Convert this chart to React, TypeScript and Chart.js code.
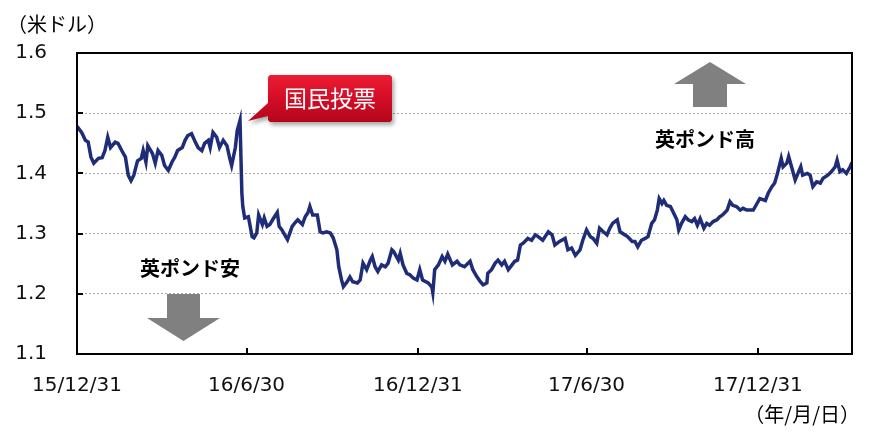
import React, { useEffect, useRef } from "react";
import { Chart, registerables } from "chart.js";

Chart.register(...registerables);

// Days since 2015-12-31
const days = [
  0, 5, 9, 12, 15, 18, 23, 27, 30, 33, 36, 41, 44, 48, 52, 55, 58, 61, 65, 69, 71, 74, 76, 81, 84, 87, 91, 94, 98,
  102, 105, 108, 113, 116, 119, 123, 127, 130, 134, 137, 141, 143, 146, 150, 153, 157, 161, 164, 166, 170, 172, 175,
  177, 178, 180, 184, 188, 190, 193, 195, 199, 201, 204, 207, 210, 215, 217, 220, 223, 226, 231, 234, 237, 242, 245,
  248, 250, 253, 258, 261, 264, 268, 272, 275, 279, 281, 284, 286, 290, 293, 296, 301, 304, 307, 311, 315, 317, 320,
  323, 327, 331, 334, 338, 340, 345, 347, 350, 354, 357, 361, 365, 368, 371, 377, 381, 382, 384, 388, 392, 395, 398,
  403, 408, 411, 416, 422, 425, 429, 433, 436, 440, 441, 445, 449, 452, 456, 459, 463, 467, 470, 473, 476, 479, 484,
  488, 492, 495, 500, 506, 510, 513, 518, 524, 527, 531, 535, 540, 543, 547, 551, 554, 558, 561, 565, 569, 572, 575,
  580, 583, 588, 591, 596, 599, 602, 606, 610, 613, 617, 620, 623, 625, 628, 630, 633, 637, 640, 644, 646, 649, 653,
  656, 660, 663, 666, 669, 673, 676, 679, 683, 687, 690, 693, 698, 701, 704, 708, 712, 715, 719, 722, 726, 730, 733,
  739, 742, 746, 749, 752, 756, 758, 762, 764, 768, 771, 774, 777, 779, 784, 787, 790, 794, 798, 801, 806, 810, 814,
  816, 819, 822, 826, 830, 832,
];

// GBP/USD (US dollars)
const rates = [
  1.478, 1.468, 1.455, 1.452, 1.427, 1.417, 1.425, 1.426, 1.438, 1.46, 1.443, 1.452, 1.45, 1.438, 1.427, 1.397, 1.388,
  1.397, 1.421, 1.425, 1.438, 1.419, 1.446, 1.433, 1.417, 1.438, 1.43, 1.413, 1.405, 1.419, 1.427, 1.438, 1.443, 1.455,
  1.463, 1.466, 1.452, 1.443, 1.438, 1.45, 1.455, 1.443, 1.468, 1.46, 1.443, 1.455, 1.446, 1.425, 1.413, 1.443, 1.471,
  1.488, 1.367, 1.345, 1.326, 1.328, 1.295, 1.293, 1.301, 1.331, 1.315, 1.326, 1.312, 1.315, 1.323, 1.335, 1.312, 1.306,
  1.298, 1.29, 1.312, 1.318, 1.323, 1.315, 1.328, 1.335, 1.345, 1.331, 1.331, 1.303, 1.301, 1.303, 1.301, 1.293, 1.273,
  1.245, 1.223, 1.212, 1.22, 1.228, 1.22, 1.218, 1.223, 1.251, 1.24, 1.256, 1.262, 1.245, 1.237, 1.248, 1.245, 1.251,
  1.273, 1.27, 1.256, 1.267, 1.248, 1.234, 1.232, 1.226, 1.223, 1.24, 1.223, 1.218, 1.211, 1.202, 1.24, 1.248, 1.262,
  1.254, 1.266, 1.248, 1.254, 1.248, 1.245, 1.254, 1.24, 1.229, 1.22, 1.215, 1.218, 1.234, 1.24, 1.251, 1.256, 1.248,
  1.254, 1.24, 1.248, 1.254, 1.256, 1.281, 1.284, 1.292, 1.289, 1.298, 1.295, 1.289, 1.303, 1.298, 1.281, 1.287, 1.292,
  1.273, 1.276, 1.264, 1.273, 1.289, 1.306, 1.295, 1.292, 1.284, 1.309, 1.303, 1.298, 1.309, 1.317, 1.323, 1.303, 1.298,
  1.295, 1.287, 1.287, 1.278, 1.289, 1.292, 1.295, 1.317, 1.323, 1.339, 1.358, 1.35, 1.355, 1.347, 1.345, 1.336, 1.323,
  1.306, 1.317, 1.328, 1.323, 1.32, 1.325, 1.314, 1.325, 1.309, 1.317, 1.314, 1.32, 1.323, 1.328, 1.331, 1.339, 1.353,
  1.347, 1.345, 1.339, 1.342, 1.339, 1.339, 1.339, 1.35, 1.358, 1.355, 1.367, 1.378, 1.384, 1.4, 1.425, 1.411, 1.417,
  1.428, 1.406, 1.389, 1.4, 1.411, 1.397, 1.4, 1.397, 1.378, 1.386, 1.384, 1.392, 1.397, 1.403, 1.411, 1.422, 1.403,
  1.406, 1.4, 1.411, 1.418,
];

const xTickDays = [0, 182, 366, 547, 731];
const xTickLabels = ["15/12/31", "16/6/30", "16/12/31", "17/6/30", "17/12/31"];
const yTicks = [1.1, 1.2, 1.3, 1.4, 1.5, 1.6];

const yTitle = "（米ドル）";
const xUnit = "（年/月/日）";
const calloutText = "国民投票";
const upText = "英ポンド高";
const downText = "英ポンド安";

const CJK = '"Noto Sans CJK JP", "Noto Sans", sans-serif';

const decor = {
  id: "decor",
  afterDatasetsDraw(chart: any) {
    const { ctx, chartArea: a, scales } = chart;
    const xs = scales.x;
    const ys = scales.y;
    ctx.save();

    // frame
    ctx.strokeStyle = "#000";
    ctx.lineWidth = 2;
    ctx.strokeRect(a.left, a.top, a.right - a.left, a.bottom - a.top);

    // inner tick marks
    ctx.lineWidth = 2;
    ctx.beginPath();
    yTicks.forEach((v) => {
      const y = Math.round(ys.getPixelForValue(v));
      ctx.moveTo(a.left, y);
      ctx.lineTo(a.left + 6, y);
    });
    xTickDays.forEach((d) => {
      const x = Math.round(xs.getPixelForValue(d));
      ctx.moveTo(x, a.bottom);
      ctx.lineTo(x, a.bottom - 6);
    });
    ctx.stroke();

    // titles
    ctx.fillStyle = "#000";
    ctx.font = `20px ${CJK}`;
    ctx.textBaseline = "middle";
    ctx.textAlign = "left";
    ctx.fillText(yTitle, 7, 24);
    ctx.textAlign = "right";
    ctx.fillText(xUnit, 860, 414);

    // callout
    const bx = 268, by = 75, bw = 124, bh = 47;
    ctx.save();
    ctx.shadowColor = "rgba(0,0,0,0.35)";
    ctx.shadowBlur = 4;
    ctx.shadowOffsetX = 2;
    ctx.shadowOffsetY = 3;
    const g = ctx.createLinearGradient(0, by, 0, by + bh);
    g.addColorStop(0, "#ec1c34");
    g.addColorStop(0.5, "#d40d26");
    g.addColorStop(1, "#b3061c");
    ctx.fillStyle = g;
    ctx.beginPath();
    ctx.moveTo(bx + 2, by);
    ctx.lineTo(bx + bw - 2, by);
    ctx.lineTo(bx + bw, by + 2);
    ctx.lineTo(bx + bw, by + bh - 2);
    ctx.lineTo(bx + bw - 2, by + bh);
    ctx.lineTo(bx + 2, by + bh);
    ctx.lineTo(bx, by + bh - 2);
    ctx.lineTo(bx, by + 41);
    ctx.lineTo(248, 121);
    ctx.lineTo(bx, by + 28);
    ctx.lineTo(bx, by + 2);
    ctx.closePath();
    ctx.fill();
    ctx.restore();
    ctx.fillStyle = "#fff";
    ctx.font = `23px ${CJK}`;
    ctx.textAlign = "center";
    ctx.textBaseline = "middle";
    ctx.fillText(calloutText, bx + bw / 2, by + 23);

    // arrows
    ctx.fillStyle = "#808080";
    ctx.beginPath();
    ctx.moveTo(710, 62);
    ctx.lineTo(746, 84);
    ctx.lineTo(727, 84);
    ctx.lineTo(727, 107);
    ctx.lineTo(693, 107);
    ctx.lineTo(693, 84);
    ctx.lineTo(674, 84);
    ctx.closePath();
    ctx.fill();

    ctx.beginPath();
    ctx.moveTo(167, 294);
    ctx.lineTo(200, 294);
    ctx.lineTo(200, 318);
    ctx.lineTo(220, 318);
    ctx.lineTo(183.5, 341);
    ctx.lineTo(147, 318);
    ctx.lineTo(167, 318);
    ctx.closePath();
    ctx.fill();

    ctx.fillStyle = "#000";
    ctx.font = `bold 20px ${CJK}`;
    ctx.textAlign = "center";
    ctx.fillText(upText, 705, 139);
    ctx.fillText(downText, 190, 268);

    ctx.restore();
  },
};

export default function App() {
  const ref = useRef<HTMLCanvasElement | null>(null);
  useEffect(() => {
    if (!ref.current) return;
    const chart = new Chart(ref.current, {
      type: "line",
      data: {
        datasets: [
          {
            data: days.map((d, i) => ({ x: d, y: rates[i] })),
            borderColor: "#1f2d78",
            borderWidth: 3.5,
            pointRadius: 0,
            tension: 0,
            fill: false,
          },
        ],
      },
      options: {
        responsive: false,
        animation: false,
        events: [],
        layout: { padding: { left: 0, right: 18, top: 53, bottom: 0 } },
        plugins: { legend: { display: false }, tooltip: { enabled: false } },
        scales: {
          x: {
            type: "linear",
            min: 0,
            max: 832,
            afterFit: (s: any) => {
              s.height = 81;
            },
            afterBuildTicks: (s: any) => {
              s.ticks = xTickDays.map((v) => ({ value: v }));
            },
            ticks: {
              autoSkip: false,
              maxRotation: 0,
              padding: 20,
              color: "#111",
              font: { family: "DejaVu Sans", size: 20 },
              callback: (v: any) => {
                const i = xTickDays.indexOf(Number(v));
                return i >= 0 ? xTickLabels[i] : "";
              },
            },
            grid: { display: false, drawTicks: false },
            border: { display: false },
          },
          y: {
            type: "linear",
            min: 1.1,
            max: 1.6,
            afterFit: (s: any) => {
              s.width = 77;
            },
            afterBuildTicks: (s: any) => {
              s.ticks = yTicks.map((v) => ({ value: v }));
            },
            ticks: {
              padding: 30,
              color: "#111",
              font: { family: "DejaVu Sans", size: 20 },
              callback: (v: any) => Number(v).toFixed(1),
            },
            grid: {
              drawTicks: false,
              lineWidth: 1,
              color: (c: any) =>
                c.tick && c.tick.value > 1.15 && c.tick.value < 1.55 ? "#a6a6a6" : "rgba(0,0,0,0)",
            },
            border: { display: false, dash: [2, 2] },
          },
        },
      },
      plugins: [decor],
    });
    return () => chart.destroy();
  }, []);
  return (
    <div style={{ position: "absolute", left: 0, top: 0, width: 870, height: 435, background: "#fff" }}>
      <canvas ref={ref} width={870} height={435} style={{ display: "block" }} />
    </div>
  );
}
